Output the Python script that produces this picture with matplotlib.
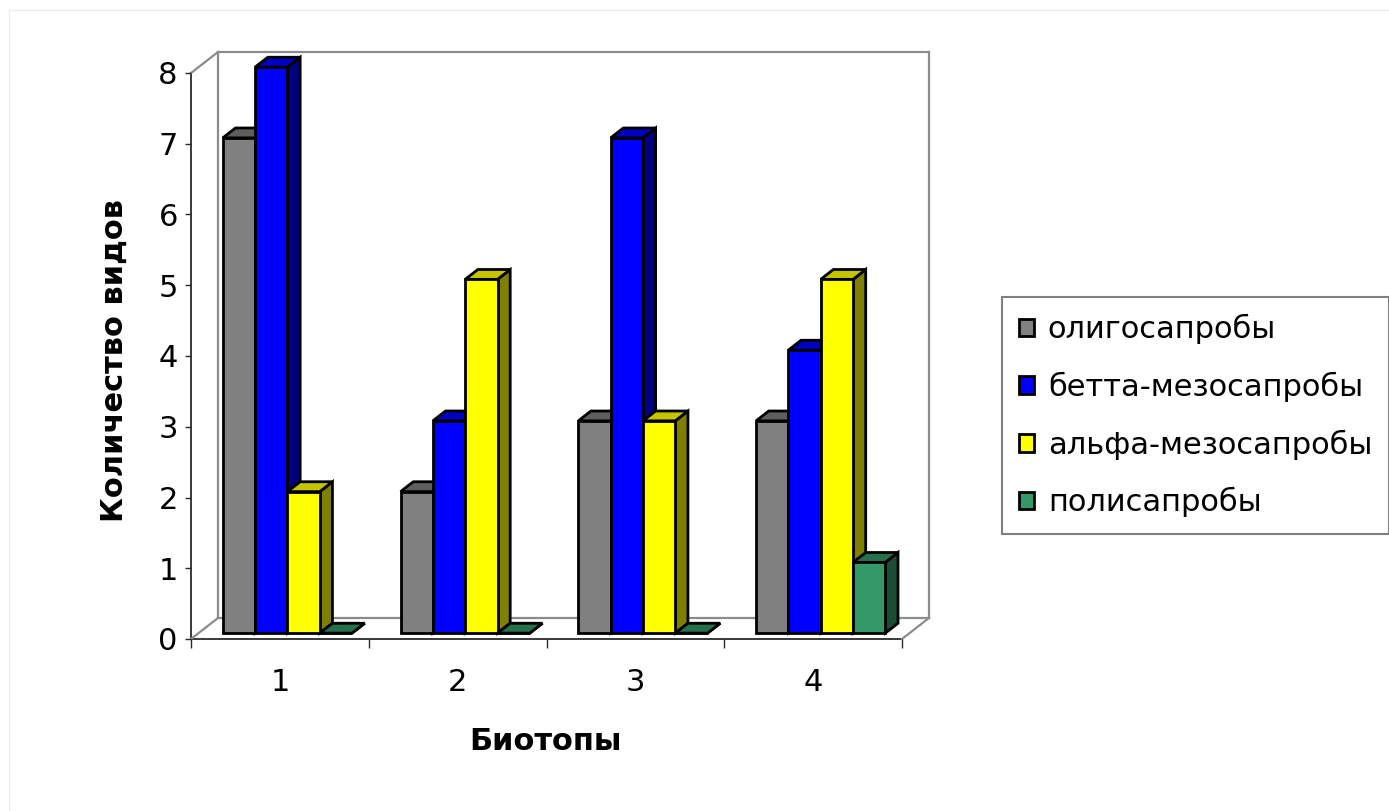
import matplotlib
matplotlib.use("Agg")
import matplotlib.pyplot as plt
from matplotlib.patches import Polygon, Patch, Rectangle

# ---- data -------------------------------------------------------------
biotopes = ["1", "2", "3", "4"]
series_names = ["олигосапробы", "бетта-мезосапробы", "альфа-мезосапробы", "полисапробы"]
oligo = [7, 2, 3, 3]
beta_meso = [8, 3, 7, 4]
alpha_meso = [2, 5, 3, 5]
poly = [0, 0, 0, 1]
y_ticks = [0, 1, 2, 3, 4, 5, 6, 7, 8]
x_title = "Биотопы"
y_title = "Количество видов"

series_values = [oligo, beta_meso, alpha_meso, poly]

# ---- style ------------------------------------------------------------
front_colors = ["#808080", "#0000FF", "#FFFF00", "#339966"]
top_colors = ["#5E5E5E", "#0000C0", "#C4C400", "#26704C"]
side_colors = ["#3C3C3C", "#000080", "#808000", "#1A4D33"]
wall_color = "#8C8C8C"
axis_color = "#2A2A2A"
edge_lw = 2.0

plt.rcParams["font.family"] = ["DejaVu Sans"]

W, H = 1389, 811
fig = plt.figure(figsize=(W / 100, H / 100), dpi=100)
fig.patch.set_facecolor("white")

# front plane of the 3-D box
ax = fig.add_axes([191 / W, 172 / H, 711 / W, 566 / H])
n_cat = len(biotopes)
ax.set_xlim(0, n_cat)
ax.set_ylim(0, y_ticks[-1])
ax.set_facecolor("none")

# oblique depth of the box, in data units (x: categories, y: values)
DEPTH_X = 27 / (711 / n_cat)
DEPTH_Y = 21 / (566 / y_ticks[-1])
BAR_FRONT, BAR_BACK = 0.28, 0.75  # bars occupy the middle of the depth
GAP = 1.5                          # gap width, in bar widths


def proj(x, y, f):
    return (x + f * DEPTH_X, y + f * DEPTH_Y)


def seg(p, q, **kw):
    ax.plot([p[0], q[0]], [p[1], q[1]], clip_on=False, solid_capstyle="projecting", **kw)


ymax = y_ticks[-1]
# back wall
back = [proj(0, 0, 1), proj(n_cat, 0, 1), proj(n_cat, ymax, 1), proj(0, ymax, 1)]
for a, b in zip(back, back[1:] + back[:1]):
    seg(a, b, color=wall_color, lw=1.6, zorder=1)
# side wall / floor edges
seg(proj(0, ymax, 0), proj(0, ymax, 1), color=wall_color, lw=1.6, zorder=1)
seg(proj(0, 0, 0), proj(0, 0, 1), color=wall_color, lw=1.6, zorder=1)
seg(proj(n_cat, 0, 0), proj(n_cat, 0, 1), color=wall_color, lw=1.6, zorder=1)

# bars, drawn left to right so later bars cover earlier side faces
n_ser = len(series_values)
bw = 1.0 / (n_ser + GAP)
z = 2
for i in range(n_cat):
    for j, vals in enumerate(series_values):
        h = vals[i]
        x0 = i + GAP / 2 * bw + j * bw
        x1 = x0 + bw
        faces = [
            ([proj(x1, 0, BAR_FRONT), proj(x1, 0, BAR_BACK), proj(x1, h, BAR_BACK), proj(x1, h, BAR_FRONT)], side_colors[j]),
            ([proj(x0, h, BAR_FRONT), proj(x1, h, BAR_FRONT), proj(x1, h, BAR_BACK), proj(x0, h, BAR_BACK)], top_colors[j]),
            ([proj(x0, 0, BAR_FRONT), proj(x1, 0, BAR_FRONT), proj(x1, h, BAR_FRONT), proj(x0, h, BAR_FRONT)], front_colors[j]),
        ]
        for pts, col in faces:
            ax.add_patch(Polygon(pts, closed=True, facecolor=col, edgecolor="black",
                                 lw=edge_lw, joinstyle="miter", clip_on=False, zorder=z))
        z += 1

# axes: spines, ticks, labels
for s in ("top", "right"):
    ax.spines[s].set_visible(False)
for s in ("left", "bottom"):
    ax.spines[s].set_color(axis_color)
    ax.spines[s].set_linewidth(1.3)
    ax.spines[s].set_zorder(0.5)

ax.set_yticks(y_ticks)
ax.set_yticklabels([str(t) for t in y_ticks])
ax.tick_params(axis="y", direction="out", length=4.5, width=1.0, color=axis_color,
               labelsize=22, pad=5)

ax.set_xticks(range(n_cat + 1))
ax.set_xticklabels([""] * (n_cat + 1))
ax.set_xticks([k + 0.5 for k in range(n_cat)], minor=True)
ax.set_xticklabels(biotopes, minor=True)
ax.tick_params(axis="x", which="major", direction="out", length=6.5, width=1.0, color=axis_color)
ax.tick_params(axis="x", which="minor", length=0, labelsize=22, pad=21)

fig.text(114 / W, 1 - 360 / H, y_title, rotation=90, ha="center", va="center",
         fontsize=22, fontweight="bold")
fig.text(545 / W, 1 - 741 / H, x_title, ha="center", va="center",
         fontsize=22, fontweight="bold")

# legend
handles = [Patch(facecolor=front_colors[j], edgecolor="black", lw=edge_lw) for j in range(n_ser)]
leg = fig.legend(handles, series_names, loc="upper left",
                 bbox_to_anchor=(1002 / W, 1 - 297 / H), bbox_transform=fig.transFigure,
                 fontsize=22, frameon=True, fancybox=False, framealpha=1,
                 edgecolor="#808080", handlelength=0.5, handleheight=0.5,
                 handletextpad=0.45, labelspacing=0.9, borderpad=0.55, borderaxespad=0)
leg.get_frame().set_linewidth(1.5)

# faint outer frame of the chart area
fig.patches.append(Rectangle((9 / W, -0.1), 1.2, 1 - 10 / H + 0.1, transform=fig.transFigure,
                             fill=False, edgecolor="#ECECEC", lw=1.0))

fig.savefig("out.png", dpi=100)
